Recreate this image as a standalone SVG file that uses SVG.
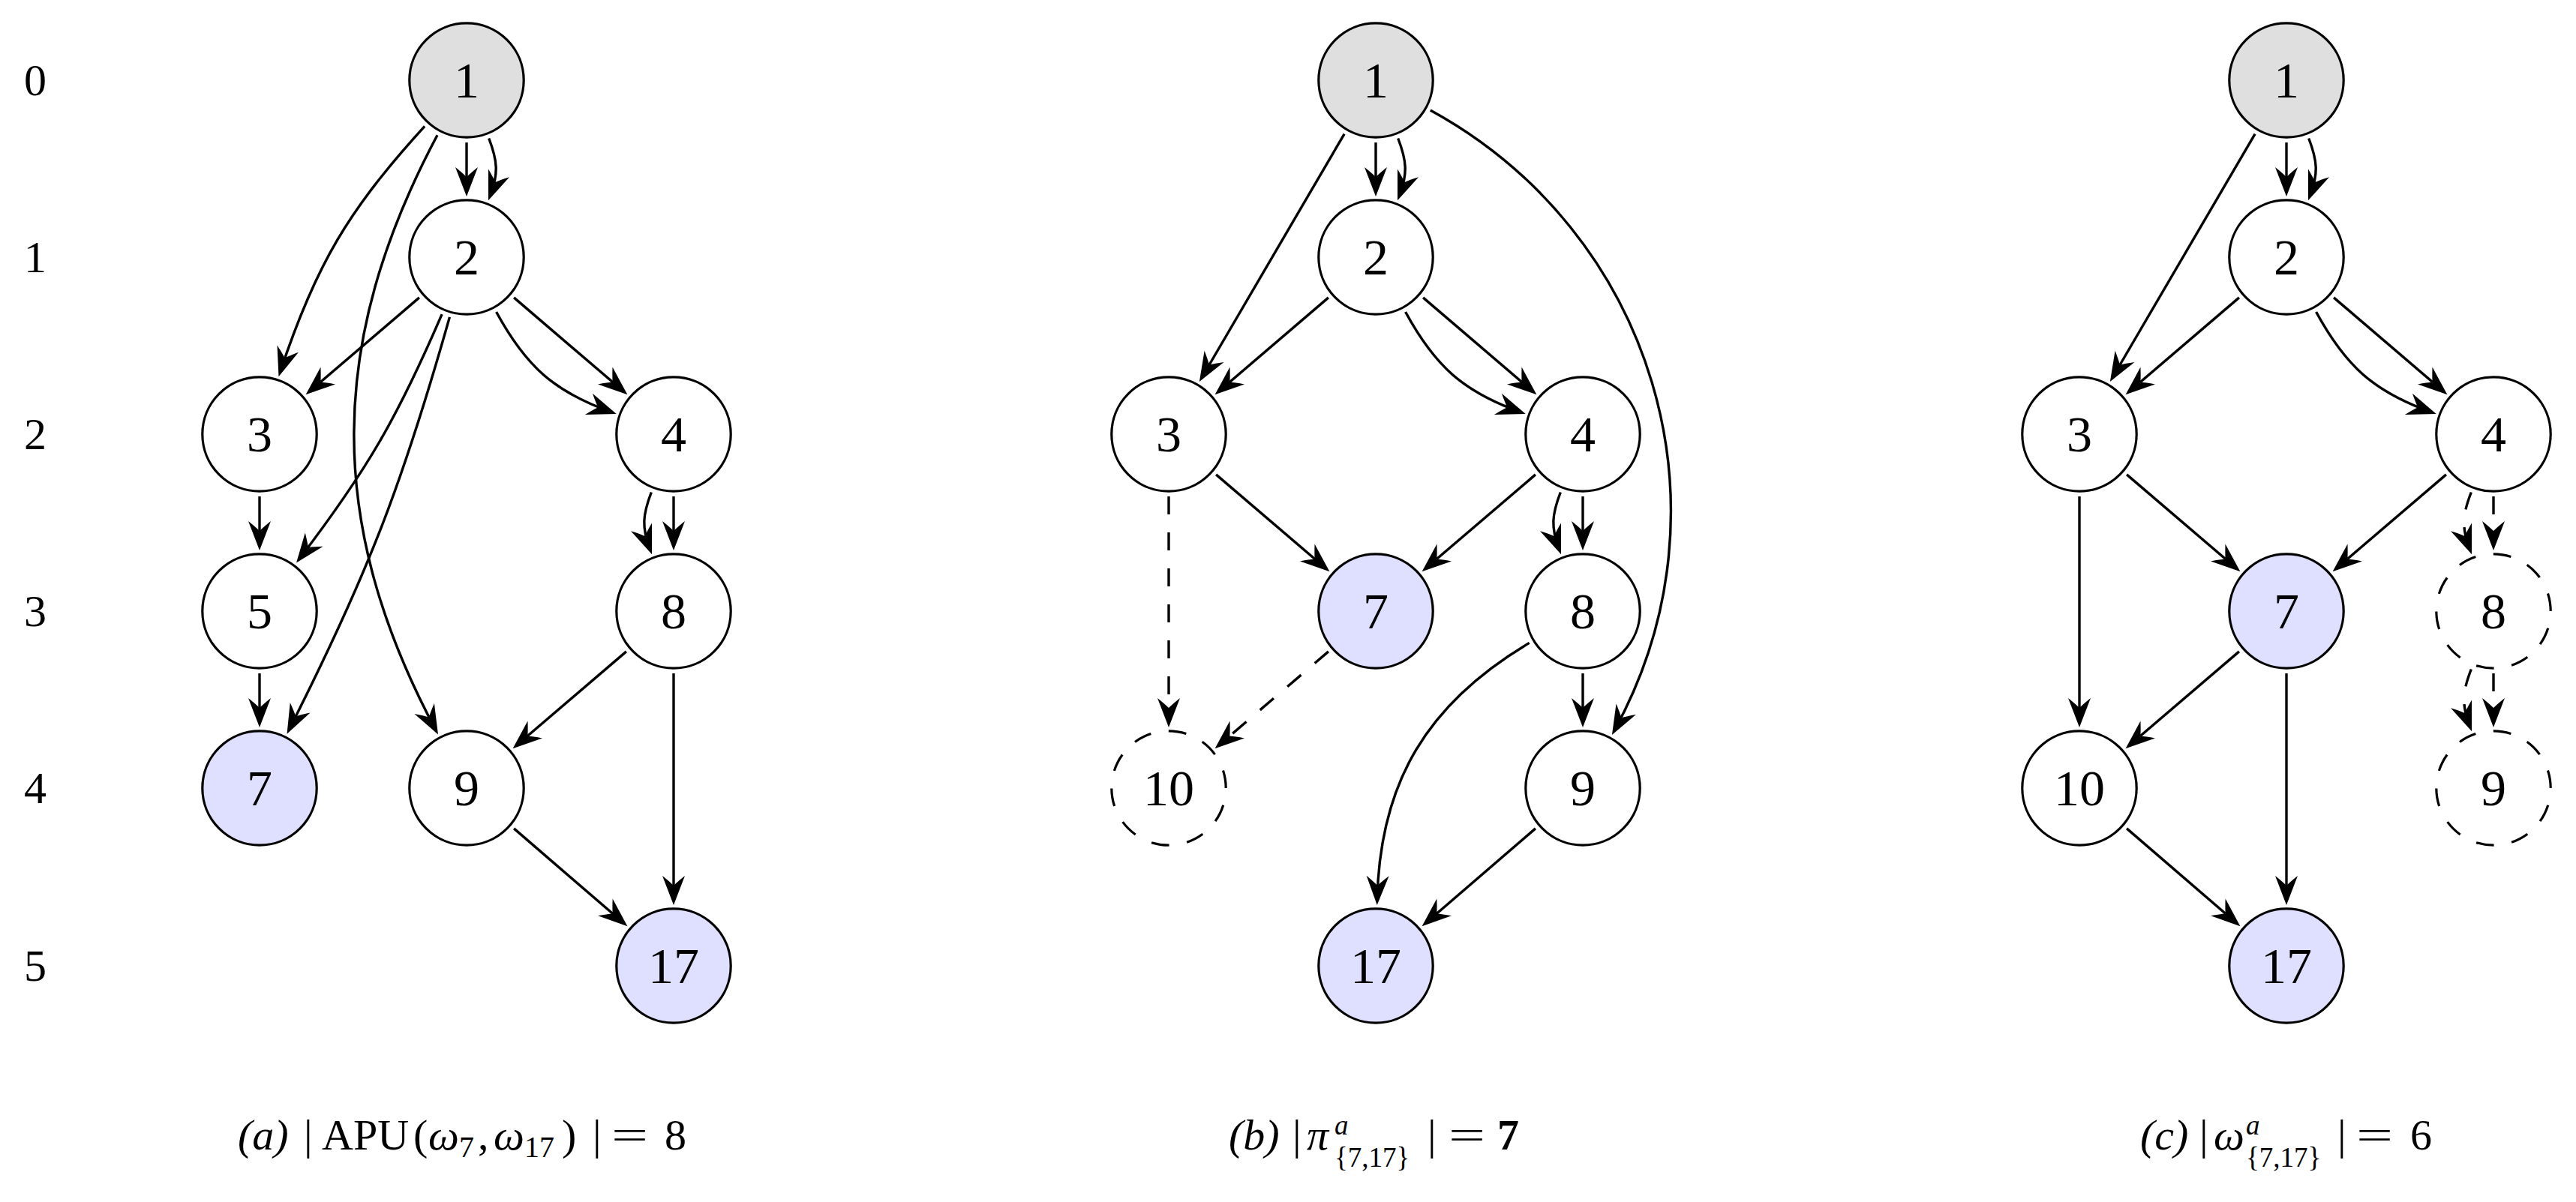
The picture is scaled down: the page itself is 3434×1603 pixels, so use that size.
<svg xmlns="http://www.w3.org/2000/svg" width="3434" height="1603" viewBox="0 0 3434 1603">
<style>
.nd circle, .nd path { stroke:#000; stroke-width:3.2; fill:#fff }
.nd .start { fill:#dfdfdf }
.nd .tgt { fill:#dfdfff }
.nd .dsh { stroke-dasharray:23.94 23.94 }
.nd text { font-family:"Liberation Serif",serif; font-size:68px; text-anchor:middle; fill:#000 }
.e { fill:none; stroke:#000; stroke-width:3.4; marker-end:url(#ah) }
.e.d { stroke-dasharray:24 24 }
.lvl { font-family:"Liberation Serif",serif; font-size:60px; text-anchor:middle; fill:#000 }
.cap text { font-family:"Liberation Serif",serif; font-size:58px; fill:#000 }
.it { font-style:italic }
.sc { font-size:40px }
.ss { font-size:37px }
</style>
<defs>
<marker id="ah" viewBox="-40 -18 50 36" refX="0" refY="0" markerWidth="50" markerHeight="36" markerUnits="userSpaceOnUse" orient="auto" overflow="visible">
<path d="M7,0 L-32,-15 Q-24,-5 -19,0 Q-24,5 -32,15 Z" fill="#000" stroke="none"/>
</marker>
</defs>
<rect x="0" y="0" width="3434" height="1603" fill="#fff"/>

<g id="levels" class="lvl">
<text x="47" y="127">0</text>
<text x="47" y="363">1</text>
<text x="47" y="599">2</text>
<text x="47" y="835">3</text>
<text x="47" y="1071">4</text>
<text x="47" y="1308">5</text>
</g>

<g id="edges">
<!-- panel a -->
<path class="e" d="M622,190 L622,255"/>
<path class="e" d="M651.7,184.5 C663.1,214.1 664.9,231.2 653.5,260.8"/>
<path class="e" d="M566.1,168.4 C464.8,279.7 421,352.6 373.7,495.5"/>
<path class="e" d="M583,180.3 C436.4,455.9 434.1,697.7 580.7,973.3"/>
<path class="e" d="M558.9,396.9 L412.9,521.8"/>
<path class="e" d="M685.1,396.9 L831.1,521.8"/>
<path class="e" d="M661.6,416 C700.5,487.6 738.3,522.4 815.1,549.6"/>
<path class="e" d="M589.1,419.2 C529.9,556.6 490,626 399.3,745"/>
<path class="e" d="M599.4,422.9 C536,646.9 490.7,764.6 385.7,972.4"/>
<path class="e" d="M346,662 L346,727"/>
<path class="e" d="M346,898 L346,963"/>
<path class="e" d="M898,662 L898,727"/>
<path class="e" d="M868.3,656.5 C856.9,686.1 855.1,703.2 866.5,732.8"/>
<path class="e" d="M834.9,868.9 L688.9,993.8"/>
<path class="e" d="M898,898 L898,1200"/>
<path class="e" d="M685.1,1104.9 L831.1,1230.8"/>
<!-- panel b -->
<path class="e" d="M1834,190 L1834,255"/>
<path class="e" d="M1863.7,184.5 C1875.1,214.1 1876.9,231.2 1865.5,260.8"/>
<path class="e" d="M1792.1,178.6 L1602.4,503"/>
<path class="e" d="M1906.8,146.9 C2204.2,309.7 2315.1,676.4 2152.3,973.8"/>
<path class="e" d="M1770.9,396.9 L1624.9,521.8"/>
<path class="e" d="M1897.1,396.9 L2043.1,521.8"/>
<path class="e" d="M1873.6,416 C1912.5,487.6 1950.3,522.4 2027.1,549.6"/>
<path class="e" d="M1621.1,632.9 L1767.1,757.8"/>
<path class="e d" d="M1558,662 L1558,963"/>
<path class="e" d="M2046.9,632.9 L1900.9,757.8"/>
<path class="e" d="M2110,662 L2110,727"/>
<path class="e" d="M2080.3,656.5 C2068.9,686.1 2067.1,703.2 2078.5,732.8"/>
<path class="e d" d="M1770.9,868.9 L1624.9,993.8"/>
<path class="e" d="M2110,898 L2110,963"/>
<path class="e" d="M2038.7,857.4 C1903.2,937.9 1839.4,1042.4 1835.9,1200"/>
<path class="e" d="M2046.9,1104.9 L1900.9,1230.8"/>
<!-- panel c -->
<path class="e" d="M3048,190 L3048,255"/>
<path class="e" d="M3077.7,184.5 C3089.1,214.1 3090.9,231.2 3079.5,260.8"/>
<path class="e" d="M3006.1,178.6 L2816.4,503"/>
<path class="e" d="M2984.9,396.9 L2838.9,521.8"/>
<path class="e" d="M3111.1,396.9 L3257.1,521.8"/>
<path class="e" d="M3087.6,416 C3126.5,487.6 3164.3,522.4 3241.1,549.6"/>
<path class="e" d="M2835.1,632.9 L2981.1,757.8"/>
<path class="e" d="M2772,662 L2772,963"/>
<path class="e" d="M3260.9,632.9 L3114.9,757.8"/>
<path class="e d" d="M3324,662 L3324,727"/>
<path class="e d" d="M3294.3,656.5 C3282.9,686.1 3281.1,703.2 3292.5,732.8"/>
<path class="e" d="M2984.9,868.9 L2838.9,993.8"/>
<path class="e" d="M3048,898 L3048,1200"/>
<path class="e d" d="M3324,898 L3324,963"/>
<path class="e d" d="M3294.3,892.5 C3282.9,922.1 3281.1,939.2 3292.5,968.8"/>
<path class="e" d="M2835.1,1104.9 L2981.1,1230.8"/>
</g>

<!-- panel a nodes -->
<g id="a-n1" class="nd"><circle class="start" cx="622" cy="107" r="76.2"/><text x="622" y="130">1</text></g>
<g id="a-n2" class="nd"><circle cx="622" cy="343" r="76.2"/><text x="622" y="366">2</text></g>
<g id="a-n3" class="nd"><circle cx="346" cy="579" r="76.2"/><text x="346" y="602">3</text></g>
<g id="a-n4" class="nd"><circle cx="898" cy="579" r="76.2"/><text x="898" y="602">4</text></g>
<g id="a-n5" class="nd"><circle cx="346" cy="815" r="76.2"/><text x="346" y="838">5</text></g>
<g id="a-n8" class="nd"><circle cx="898" cy="815" r="76.2"/><text x="898" y="838">8</text></g>
<g id="a-n7" class="nd"><circle class="tgt" cx="346" cy="1051" r="76.2"/><text x="346" y="1074">7</text></g>
<g id="a-n9" class="nd"><circle cx="622" cy="1051" r="76.2"/><text x="622" y="1074">9</text></g>
<g id="a-n17" class="nd"><circle class="tgt" cx="898" cy="1288" r="76.2"/><text x="898" y="1311">17</text></g>

<!-- panel b nodes -->
<g id="b-n1" class="nd"><circle class="start" cx="1834" cy="107" r="76.2"/><text x="1834" y="130">1</text></g>
<g id="b-n2" class="nd"><circle cx="1834" cy="343" r="76.2"/><text x="1834" y="366">2</text></g>
<g id="b-n3" class="nd"><circle cx="1558" cy="579" r="76.2"/><text x="1558" y="602">3</text></g>
<g id="b-n4" class="nd"><circle cx="2110" cy="579" r="76.2"/><text x="2110" y="602">4</text></g>
<g id="b-n7" class="nd"><circle class="tgt" cx="1834" cy="815" r="76.2"/><text x="1834" y="838">7</text></g>
<g id="b-n8" class="nd"><circle cx="2110" cy="815" r="76.2"/><text x="2110" y="838">8</text></g>
<g id="b-n10" class="nd"><path class="dsh" d="M1634.2,1051 A76.2,76.2 0 1 0 1481.8,1051 A76.2,76.2 0 1 0 1634.2,1051 Z"/><text x="1558" y="1074">10</text></g>
<g id="b-n9" class="nd"><circle cx="2110" cy="1051" r="76.2"/><text x="2110" y="1074">9</text></g>
<g id="b-n17" class="nd"><circle class="tgt" cx="1834" cy="1288" r="76.2"/><text x="1834" y="1311">17</text></g>

<!-- panel c nodes -->
<g id="c-n1" class="nd"><circle class="start" cx="3048" cy="107" r="76.2"/><text x="3048" y="130">1</text></g>
<g id="c-n2" class="nd"><circle cx="3048" cy="343" r="76.2"/><text x="3048" y="366">2</text></g>
<g id="c-n3" class="nd"><circle cx="2772" cy="579" r="76.2"/><text x="2772" y="602">3</text></g>
<g id="c-n4" class="nd"><circle cx="3324" cy="579" r="76.2"/><text x="3324" y="602">4</text></g>
<g id="c-n7" class="nd"><circle class="tgt" cx="3048" cy="815" r="76.2"/><text x="3048" y="838">7</text></g>
<g id="c-n8" class="nd"><path class="dsh" d="M3400.2,815 A76.2,76.2 0 1 0 3247.8,815 A76.2,76.2 0 1 0 3400.2,815 Z"/><text x="3324" y="838">8</text></g>
<g id="c-n10" class="nd"><circle cx="2772" cy="1051" r="76.2"/><text x="2772" y="1074">10</text></g>
<g id="c-n9" class="nd"><path class="dsh" d="M3400.2,1051 A76.2,76.2 0 1 0 3247.8,1051 A76.2,76.2 0 1 0 3400.2,1051 Z"/><text x="3324" y="1074">9</text></g>
<g id="c-n17" class="nd"><circle class="tgt" cx="3048" cy="1288" r="76.2"/><text x="3048" y="1311">17</text></g>

<g id="captions" class="cap">
<text y="1533"><tspan x="317" class="it">(a)</tspan><tspan x="405">|</tspan><tspan x="429">APU</tspan><tspan x="551">(</tspan><tspan x="571" class="it">ω</tspan><tspan x="612" class="sc" dy="10">7</tspan><tspan x="637" dy="-10">,</tspan><tspan x="658" class="it">ω</tspan><tspan x="699" class="sc" dy="10">17</tspan><tspan x="749" dy="-10">)</tspan><tspan x="790">|</tspan></text>
<text transform="translate(815,1533) scale(1.5,1)">=</text>
<text x="886" y="1533">8</text>
<text y="1533"><tspan x="1638" class="it">(b)</tspan><tspan x="1723">|</tspan><tspan x="1742" class="it">π</tspan><tspan x="1779" y="1513" class="it ss">a</tspan><tspan x="1779" y="1556" class="ss">{7,17}</tspan><tspan x="1903" y="1533">|</tspan></text>
<text transform="translate(1931,1533) scale(1.5,1)">=</text>
<text x="1996" y="1533" font-weight="bold">7</text>
<text y="1533"><tspan x="2853" class="it">(c)</tspan><tspan x="2932">|</tspan><tspan x="2951" class="it">ω</tspan><tspan x="2994" y="1513" class="it ss">a</tspan><tspan x="2994" y="1556" class="ss">{7,17}</tspan><tspan x="3116" y="1533">|</tspan></text>
<text transform="translate(3141,1533) scale(1.5,1)">=</text>
<text x="3213" y="1533">6</text>
</g>
</svg>
